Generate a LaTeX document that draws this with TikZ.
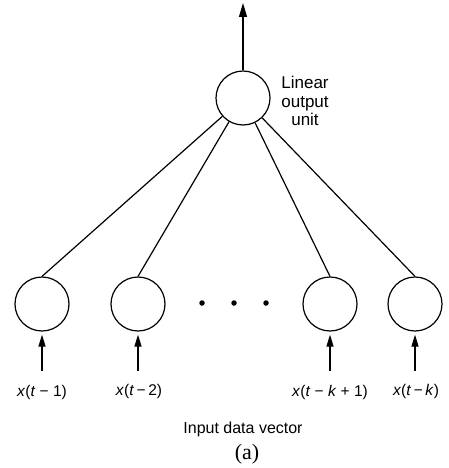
\documentclass[tikz,border=0pt]{standalone}
\usepackage{fontspec}
\setmainfont{Liberation Sans}
\newfontfamily\capfont{Liberation Serif}
\usetikzlibrary{arrows.meta}
\begin{document}
\begin{tikzpicture}[x=1pt,y=-1pt,
  unit/.style={circle,draw,line width=1.2pt,minimum size=54pt,inner sep=0pt},
  conn/.style={line width=1.2pt},
  inarrow/.style={line width=1.2pt,-{Triangle[length=12pt,width=7pt]}},
  lbl/.style={font=\fontsize{15.5}{18}\selectfont,inner sep=0pt,anchor=base},
  dotmark/.style={circle,fill,inner sep=0pt,minimum size=5.5pt}]
\useasboundingbox (0,0) rectangle (448,468);
% output unit
\node[unit] (out) at (243,98) {};
\coordinate (top) at (243,3);
\draw[inarrow,-{Triangle[length=14pt,width=8pt]}] (out) -- (top);
\node[font=\fontsize{17}{18.5}\selectfont,align=center,inner sep=0pt,anchor=north] (olbl) at (305,76) {Linear\\output\\unit};
% input units
\node[unit] (i1) at (42,304) {};
\node[unit] (i2) at (138,304) {};
\node[unit] (i3) at (330,304) {};
\node[unit] (i4) at (415,304) {};
\node[dotmark] (d1) at (202,303) {};
\node[dotmark] (d2) at (234,303) {};
\node[dotmark] (d3) at (266,303) {};
\foreach \n in {i1,i2,i3,i4} \draw[conn] (out) -- (\n.north);
% input arrows
\coordinate (s1) at (42,371);
\coordinate (s2) at (138,371);
\coordinate (s3) at (330,371);
\coordinate (s4) at (415,371);
\foreach \n in {1,2,3,4} \draw[inarrow,shorten >=3pt] (s\n) -- (i\n);
% labels
\node[lbl] (l1) at (42,396) {\textit{x}(\textit{t} − 1)};
\node[lbl] (l2) at (139,395) {\textit{x}(\textit{t}\,−\,2)};
\node[lbl] (l3) at (330,396) {\textit{x}(\textit{t} − \textit{k} + 1)};
\node[lbl] (l4) at (416,395) {\textit{x}(\textit{t}\,−\,\textit{k})};
\node[font=\fontsize{16}{19}\selectfont,inner sep=0pt,anchor=base] (ivec) at (243,433) {Input data vector};
\node[font=\capfont\fontsize{22}{24}\selectfont,inner sep=0pt,anchor=base] (cap) at (247,459) {(a)};
\end{tikzpicture}
\end{document}
